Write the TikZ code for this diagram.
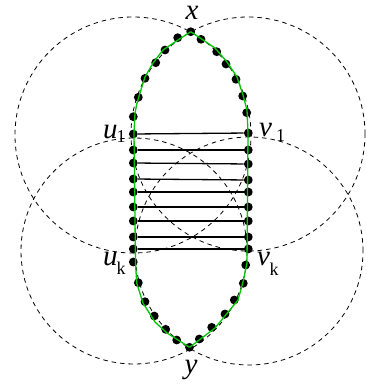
\documentclass[tikz,border=0pt]{standalone}
\usepackage{fontspec}
\setmainfont{Liberation Serif}
\newcommand{\mainsz}{\fontsize{29}{29}\selectfont}
\newcommand{\subsz}{\fontsize{18}{18}\selectfont}
\definecolor{grnline}{RGB}{0,200,0}
\begin{document}
\begin{tikzpicture}[x=1pt,y=-1pt,
  dot/.style={circle,fill=black,inner sep=0pt,minimum size=8.8pt},
  circ/.style={dash pattern=on 4.5pt off 4pt, line width=0.8pt},
  rung/.style={line width=1.3pt},
  grn/.style={draw=grnline, line width=1.3pt, line join=round},
  lab/.style={inner sep=0pt, font=\mainsz}]
\useasboundingbox (0,0) rectangle (366,390);
% dashed circles
\draw[circ] (133,135) circle[radius=118pt];
\draw[circ] (248,134) circle[radius=117pt];
\draw[circ] (134,251) circle[radius=113pt];
\draw[circ] (249,251) circle[radius=114pt];
% ladder dots
\foreach \i/\yl/\yr in {1/134/133, 2/150/150, 3/163/164, 4/179/180, 5/192/192, 6/207/207, 7/221/221, 8/237/237, 9/249/249}{
  \node[dot] (L\i) at (133.3,\yl) {};
  \node[dot] (R\i) at (248.3,\yr) {};
}
\foreach \i in {1,...,9}{ \draw[rung] (L\i) -- (R\i); }
% other dots
\node[dot] (X) at (190.7,31.7) {};
\node[dot] (Y) at (189.5,347.3) {};
\foreach \n/\p in {a1/{177.7,37.7}, a2/{165,50}, a3/{155.7,62.7}, a4/{145,78.3}, a5/{138.3,97.3}, a6/{133.3,116.7},
                   b1/{201,39.3}, b2/{216.7,51.7}, b3/{226,64}, b4/{236,79.3}, b5/{242.7,96}, b6/{246.7,112.7},
                   c1/{133.3,262}, c2/{138.3,282.7}, c3/{145,301.7}, c4/{154.3,316}, c5/{165.7,329.3}, c6/{176.7,340},
                   d1/{199.3,339}, d2/{211.7,327.3}, d3/{225,314}, d4/{234.3,300}, d5/{243.3,283.3}, d6/{245.7,265}}{
  \node[dot] (\n) at (\p) {};
}
% green path
\draw[grn] (X.center) -- (178,40) -- (163,50) -- (153,63) -- (145,77) -- (140,93) -- (137,103) -- (135,113) -- (134,133)
  -- (135.5,263) -- (136.7,283) -- (143,303) -- (155,322) -- (167,333) -- (Y.center);
\draw[grn] (X.center) -- (215,48) -- (227,62) -- (237,77) -- (243,95) -- (247,110) -- (248,133)
  -- (247,263) -- (243,282) -- (238,300) -- (215,328) -- (Y.center);
% labels
\node[lab, anchor=base] (lx) at (192,20) {\textit{x}};
\node[lab, anchor=base] (ly) at (191,373) {\textit{y}};
\node[lab, anchor=base west] (lu1) at (103,139) {\textit{u}\kern-1pt\raisebox{-4pt}{\subsz 1}};
\node[lab, anchor=base west] (lv1) at (259,137) {\textit{v}\kern4pt\raisebox{-5pt}{\subsz 1}};
\node[lab, anchor=base west] (luk) at (103,265) {\textit{u}\kern-1pt\raisebox{-9pt}{\subsz k}};
\node[lab, anchor=base west] (lvk) at (257,265) {\textit{v}\kern-0.5pt\raisebox{-10pt}{\subsz k}};
\end{tikzpicture}
\end{document}
